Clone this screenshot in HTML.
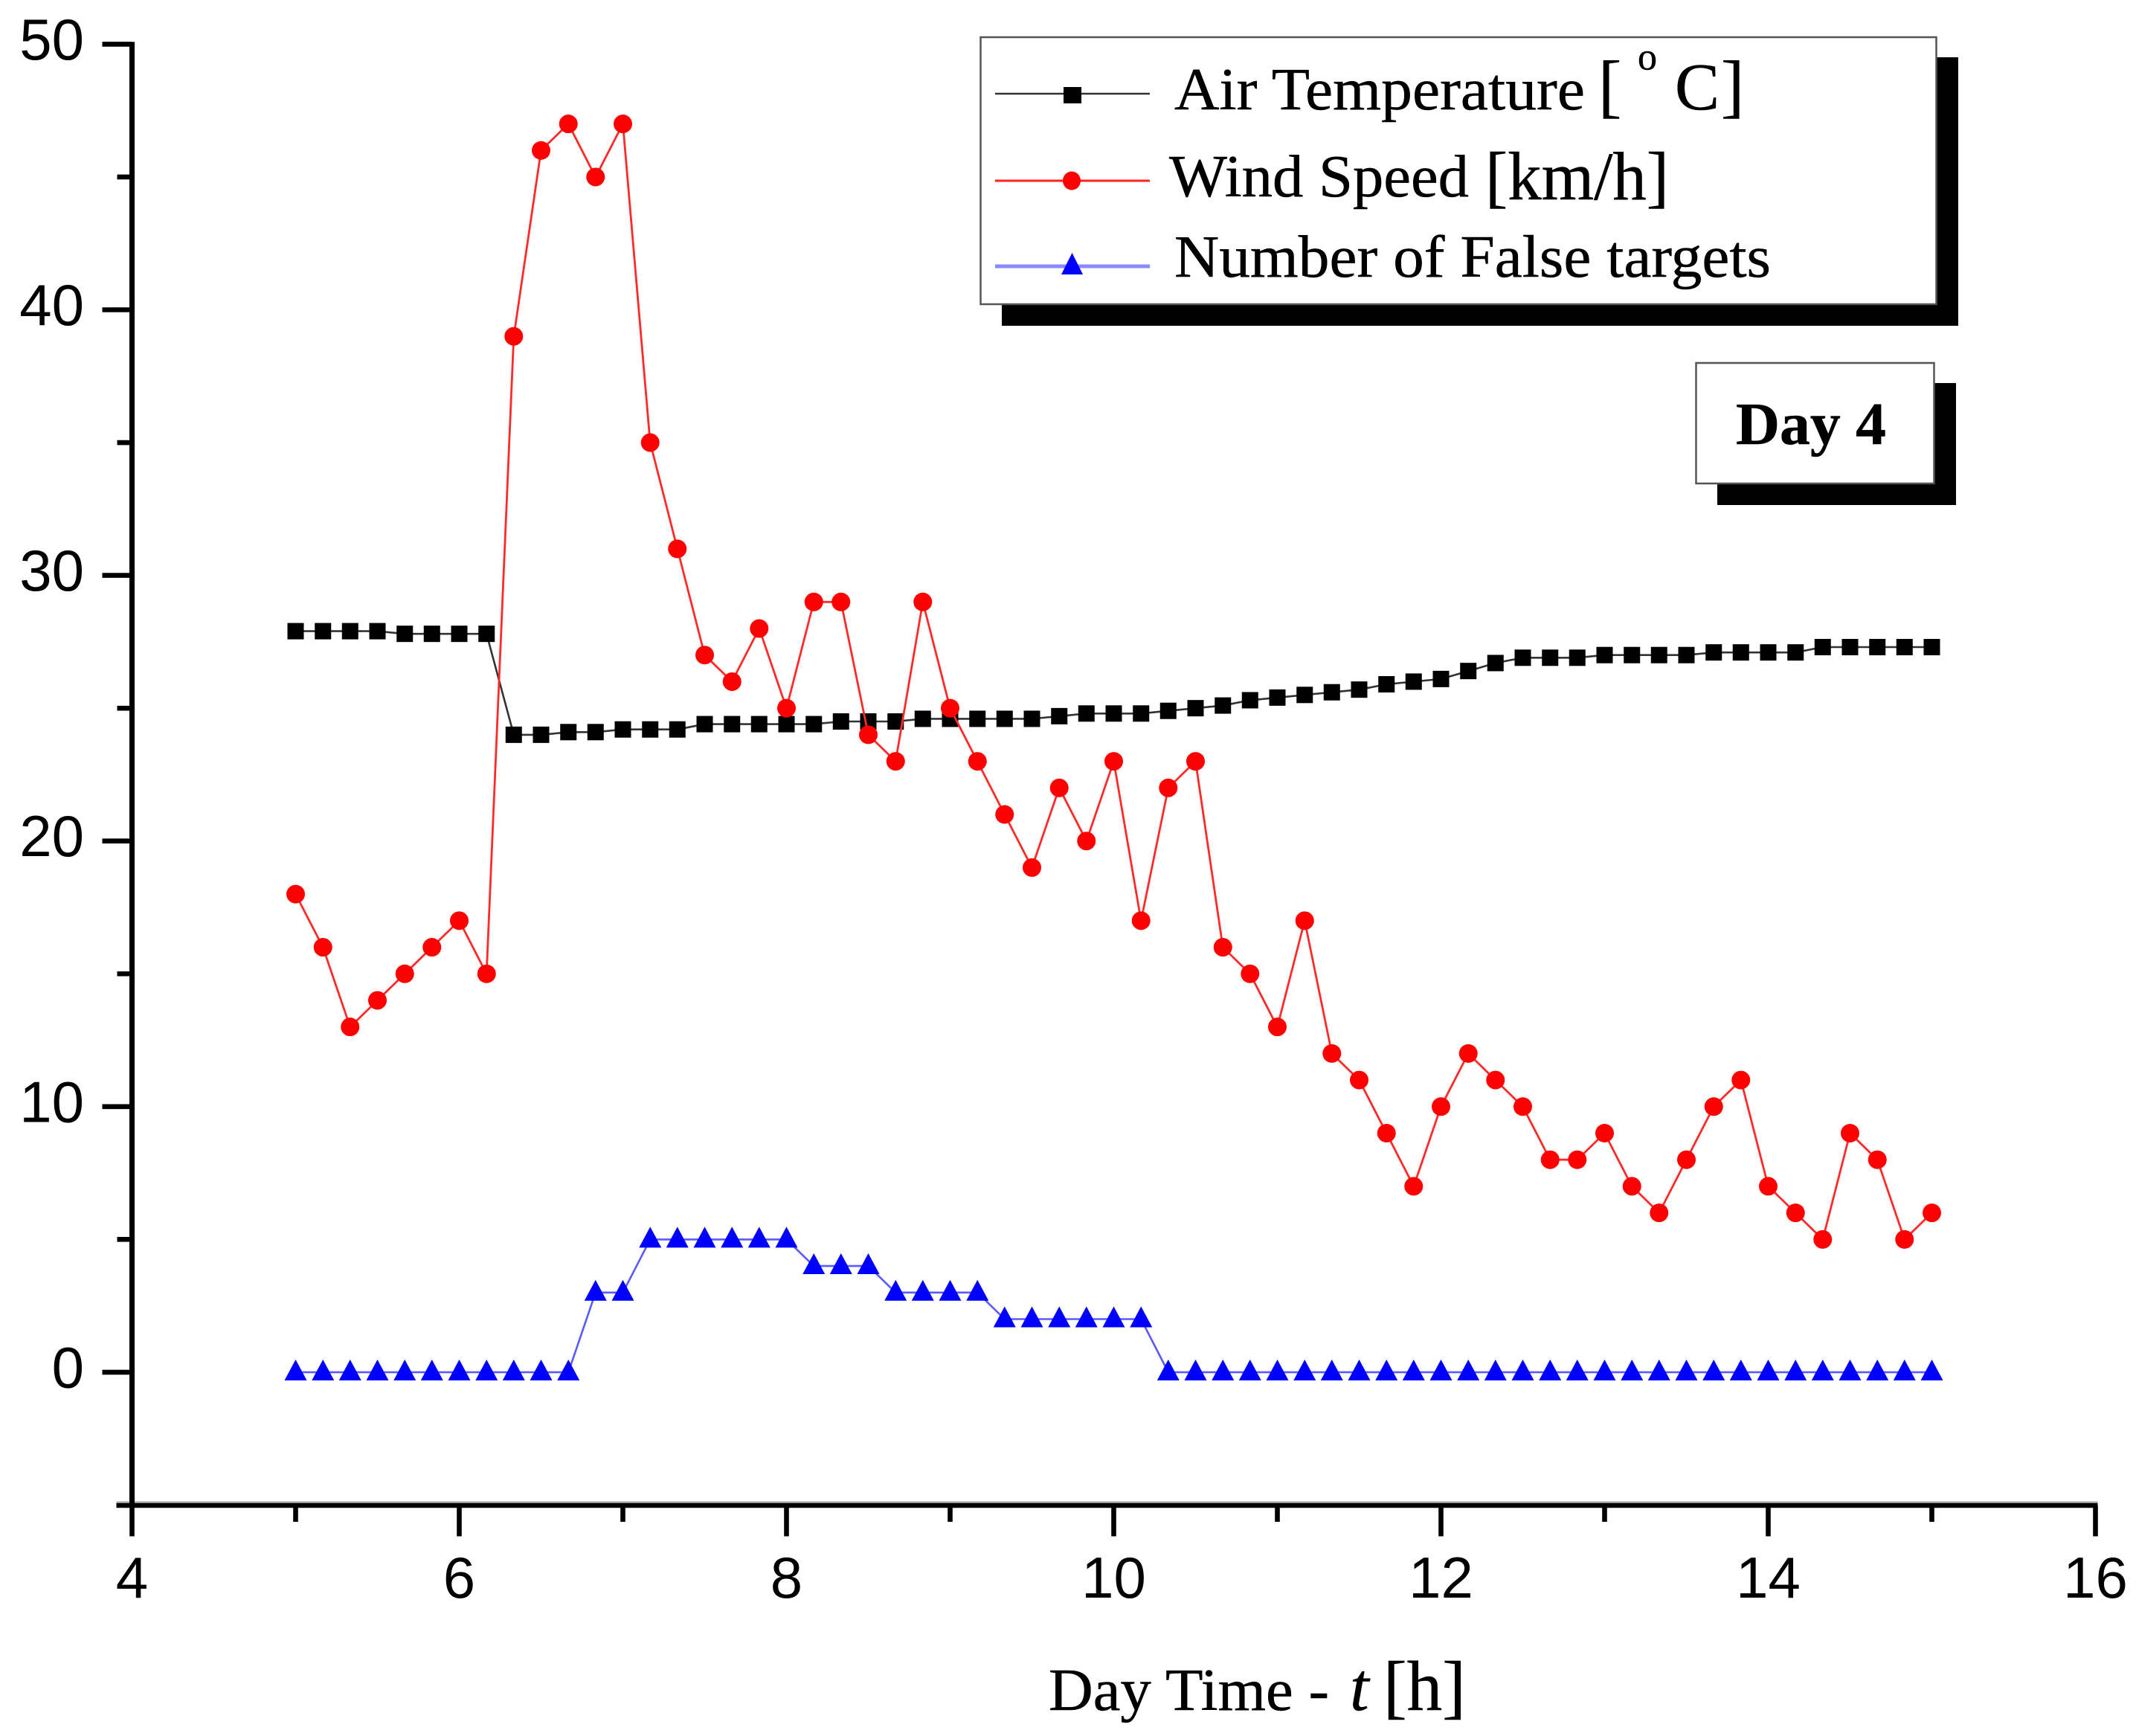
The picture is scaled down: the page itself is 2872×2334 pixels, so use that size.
<!DOCTYPE html>
<html lang="en">
<head>
<meta charset="utf-8">
<title>Day 4 weather and false targets</title>
<style>
html,body{margin:0;padding:0;background:#fff;width:2872px;height:2334px;overflow:hidden}
svg{display:block}
.serif{font-family:"Liberation Serif",serif;fill:#000;stroke:#000;stroke-width:0.5}
.sans{font-family:"Liberation Sans",sans-serif;fill:#000;font-size:78px}
</style>
</head>
<body>
<svg id="chart" width="2872" height="2334" viewBox="0 0 2872 2334" xmlns="http://www.w3.org/2000/svg">
  <rect x="0" y="0" width="2872" height="2334" fill="#fff"/>
  <g id="axes"></g>
  <g id="series"></g>

  <text class="serif" x="1410" y="2299" font-size="80" textLength="377" lengthAdjust="spacingAndGlyphs">Day Time -</text>
  <text class="serif" x="1815" y="2299" font-size="92" font-style="italic">t</text>
  <text class="serif" x="1860" y="2299" font-size="95">[h]</text>

  <g>
    <rect x="1347" y="77" width="1286" height="361" fill="#000"/>
    <rect x="1318.5" y="50" width="1285" height="359" fill="#fff" stroke="#555" stroke-width="2.5"/>

    <g>
      <line x1="1338" y1="126" x2="1546" y2="126" stroke="#333" stroke-width="2.5"/>
      <rect x="1430" y="117" width="24" height="22" fill="#000"/>
      <text class="serif" x="1579" y="147" font-size="81" textLength="552" lengthAdjust="spacingAndGlyphs">Air Temperature</text>
      <text class="serif" x="2149" y="147" font-size="94">[</text>
      <text class="serif" x="2202" y="93.5" font-size="52">o</text>
      <text class="serif" x="2252" y="147" font-size="90">C</text>
      <text class="serif" x="2314" y="147" font-size="94">]</text>
    </g>

    <g>
      <line x1="1338" y1="243" x2="1546" y2="243" stroke="#ff2020" stroke-width="3"/>
      <ellipse cx="1441" cy="243" rx="12" ry="12.5" fill="#f00"/>
      <text class="serif" x="1572" y="264" font-size="81" textLength="403" lengthAdjust="spacingAndGlyphs">Wind Speed</text>
      <text class="serif" x="1997" y="268" font-size="92" textLength="247" lengthAdjust="spacingAndGlyphs">[km/h]</text>
    </g>

    <g>
      <line x1="1338" y1="358" x2="1546" y2="358" stroke="#8a8aff" stroke-width="5"/>
      <polygon points="1441.5,340 1456,369 1427,369" fill="#00f"/>
      <text class="serif" x="1579" y="372" font-size="81" textLength="802" lengthAdjust="spacingAndGlyphs">Number of False targets</text>
    </g>
  </g>

  <g>
    <rect x="2309" y="515" width="321" height="164" fill="#000"/>
    <rect x="2280.5" y="488" width="320" height="162" fill="#fff" stroke="#555" stroke-width="2.5"/>
    <text class="serif" x="2334" y="597" font-size="80" font-weight="bold" textLength="202" lengthAdjust="spacingAndGlyphs">Day 4</text>
  </g>
</svg>

<script>
const hours = [5,5.167,5.333,5.5,5.667,5.833,6,6.167,6.333,6.5,6.667,6.833,7,7.167,7.333,7.5,7.667,7.833,8,8.167,8.333,8.5,8.667,8.833,9,9.167,9.333,9.5,9.667,9.833,10,10.167,10.333,10.5,10.667,10.833,11,11.167,11.333,11.5,11.667,11.833,12,12.167,12.333,12.5,12.667,12.833,13,13.167,13.333,13.5,13.667,13.833,14,14.167,14.333,14.5,14.667,14.833,15];
const airTemperature = [27.9,27.9,27.9,27.9,27.8,27.8,27.8,27.8,24.0,24.0,24.1,24.1,24.2,24.2,24.2,24.4,24.4,24.4,24.4,24.4,24.5,24.5,24.5,24.6,24.6,24.6,24.6,24.6,24.7,24.8,24.8,24.8,24.9,25.0,25.1,25.3,25.4,25.5,25.6,25.7,25.9,26.0,26.1,26.4,26.7,26.9,26.9,26.9,27.0,27.0,27.0,27.0,27.1,27.1,27.1,27.1,27.3,27.3,27.3,27.3,27.3];
const windSpeed = [18,16,13,14,15,16,17,15,39,46,47,45,47,35,31,27,26,28,25,29,29,24,23,29,25,23,21,19,22,20,23,17,22,23,16,15,13,17,12,11,9,7,10,12,11,10,8,8,9,7,6,8,10,11,7,6,5,9,8,5,6];
const falseTargets = [0,0,0,0,0,0,0,0,0,0,0,3,3,5,5,5,5,5,5,4,4,4,3,3,3,3,2,2,2,2,2,2,0,0,0,0,0,0,0,0,0,0,0,0,0,0,0,0,0,0,0,0,0,0,0,0,0,0,0,0,0];
const xMajorTicks = [4,6,8,10,12,14,16];
const xMinorTicks = [5,7,9,11,13,15];
const yMajorTicks = [0,10,20,30,40,50];
const yMinorTicks = [-5,5,15,25,35,45];
const xTickLabels = ["4","6","8","10","12","14","16"];
const yTickLabels = ["0","10","20","30","40","50"];

const SVG_NS = "http://www.w3.org/2000/svg";
const axesGroup = document.getElementById("axes");
const seriesGroup = document.getElementById("series");

function xScale(v){ return 177.5 + (v - 4) * 220; }
function yScale(v){ return 1844.9 - v * 35.71; }

function make(tag, attrs, parent){
  const el = document.createElementNS(SVG_NS, tag);
  for (const k in attrs) el.setAttribute(k, attrs[k]);
  parent.appendChild(el);
  return el;
}

/* axis lines */
const axisBaseY = yScale(-5) + 0.6;
const xShade = make("line", {x1:xScale(4)-21, y1:axisBaseY-4, x2:xScale(16)+3, y2:axisBaseY-4, stroke:"#aaa", "stroke-width":3}, axesGroup);


const xAxisLine = make("line", {x1:xScale(4)-21, y1:axisBaseY, x2:xScale(16)+3, y2:axisBaseY, stroke:"#000", "stroke-width":6.4}, axesGroup);


const yAxisLine = make("line", {x1:xScale(4), y1:yScale(50)-3, x2:xScale(4), y2:axisBaseY, stroke:"#000", "stroke-width":7}, axesGroup);



/* x ticks */
xMajorTicks.forEach(function(v, i){
  const t = make("line", {x1:xScale(v), y1:axisBaseY, x2:xScale(v), y2:axisBaseY+41.5, stroke:"#000", "stroke-width":6.6}, axesGroup);
  
  
  const l = make("text", {x:xScale(v), y:2148, "text-anchor":"middle", "class":"sans"}, axesGroup);
  l.textContent = xTickLabels[i];
  
  
});
xMinorTicks.forEach(function(v){
  const t = make("line", {x1:xScale(v), y1:axisBaseY, x2:xScale(v), y2:axisBaseY+22, stroke:"#000", "stroke-width":6.6}, axesGroup);
  
  
});

/* y ticks */
yMajorTicks.forEach(function(v, i){
  const t = make("line", {x1:xScale(4)-40, y1:yScale(v), x2:xScale(4), y2:yScale(v), stroke:"#000", "stroke-width":6.6}, axesGroup);
  
  
  const l = make("text", {x:113, y:yScale(v)+20.5, "text-anchor":"end", "class":"sans"}, axesGroup);
  l.textContent = yTickLabels[i];
  
  
});
yMinorTicks.forEach(function(v){
  if (v === -5) {
    return;
  }
  const t = make("line", {x1:xScale(4)-20, y1:yScale(v), x2:xScale(4), y2:yScale(v), stroke:"#000", "stroke-width":6.6}, axesGroup);
  
  
});

function linePoints(values){
  return values.map(function(v, i){ return xScale(hours[i]).toFixed(1) + "," + yScale(v).toFixed(1); }).join(" ");
}

/* air temperature */
const airLine = make("polyline", {points:linePoints(airTemperature), fill:"none", stroke:"#333", "stroke-width":2.6}, seriesGroup);


airTemperature.forEach(function(v, i){
  const m = make("rect", {x:xScale(hours[i])-11, y:yScale(v)-11, width:22, height:22, fill:"#000"}, seriesGroup);
  
  
});

/* wind speed */
const windLine = make("polyline", {points:linePoints(windSpeed), fill:"none", stroke:"#ff2a2a", "stroke-width":2.8}, seriesGroup);


windSpeed.forEach(function(v, i){
  const m = make("circle", {cx:xScale(hours[i]), cy:yScale(v), r:12.5, fill:"#f00"}, seriesGroup);
  
  
});

/* false targets */
const falseLine = make("polyline", {points:linePoints(falseTargets), fill:"none", stroke:"#5a5aff", "stroke-width":2.6}, seriesGroup);


falseTargets.forEach(function(v, i){
  const cx = xScale(hours[i]);
  const cy = yScale(v);
  const m = make("polygon", {points:cx+","+(cy-17)+" "+(cx+15)+","+(cy+11)+" "+(cx-15)+","+(cy+11), fill:"#00f"}, seriesGroup);
  
  
});
</script>
</body>
</html>
